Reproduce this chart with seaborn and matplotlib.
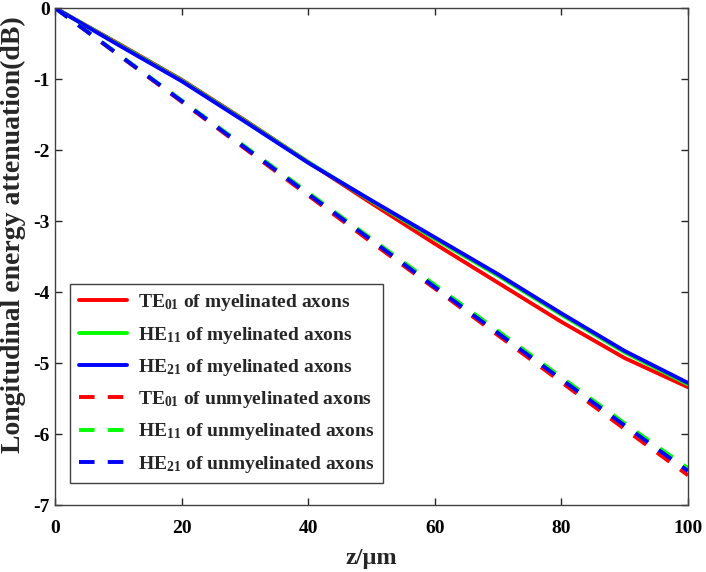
import numpy as np
import pandas as pd
import matplotlib
matplotlib.use("Agg")
import matplotlib.pyplot as plt
import seaborn as sns

# --- data (attenuation in dB vs z in um) ------------------------------------
z = [0, 10, 20, 30, 40, 50, 60, 70, 80, 90, 100]

te01_myel = [0, -0.50, -1.01, -1.58, -2.17, -2.75, -3.32, -3.87, -4.42, -4.93, -5.34]
he11_myel = [0, -0.51, -1.02, -1.59, -2.17, -2.72, -3.25, -3.77, -4.32, -4.85, -5.30]
he21_myel = [0, -0.52, -1.03, -1.60, -2.18, -2.71, -3.23, -3.75, -4.30, -4.83, -5.28]

te01_unmyel = [0, -0.66, -1.32, -1.98, -2.64, -3.30, -3.95, -4.61, -5.27, -5.93, -6.58]
he11_unmyel = [0, -0.65, -1.30, -1.95, -2.60, -3.25, -3.90, -4.55, -5.20, -5.85, -6.48]
he21_unmyel = [0, -0.655, -1.31, -1.965, -2.62, -3.27, -3.93, -4.58, -5.23, -5.88, -6.52]

labels = [
    "TE$_{01}$ of myelinated axons",
    "HE$_{11}$ of myelinated axons",
    "HE$_{21}$ of myelinated axons",
    "TE$_{01}$ of unmyelinated axons",
    "HE$_{11}$ of unmyelinated axons",
    "HE$_{21}$ of unmyelinated axons",
]
series = [te01_myel, he11_myel, he21_myel, te01_unmyel, he11_unmyel, he21_unmyel]
colors = ["#ff0000", "#00ff00", "#0000ff", "#ff0000", "#00ff00", "#0000ff"]
dashed = [False, False, False, True, True, True]

# --- style: MATLAB-ish look, bold Times-like font ----------------------------
sns.set_theme(style="ticks")
plt.rcParams["font.family"] = ["Liberation Serif", "DejaVu Serif"]
plt.rcParams["font.weight"] = "bold"
plt.rcParams["mathtext.fontset"] = "custom"
plt.rcParams["mathtext.rm"] = "Liberation Serif:bold"
plt.rcParams["mathtext.it"] = "Liberation Serif:bold"
plt.rcParams["mathtext.bf"] = "Liberation Serif:bold"

fig = plt.figure(figsize=(7.06, 5.72), dpi=100)
ax = fig.add_axes([0.078, 0.117, 0.8965, 0.869])

for vals, lab, col, dsh in zip(series, labels, colors, dashed):
    df = pd.DataFrame({"z": z, "att": vals})
    sns.lineplot(data=df, x="z", y="att", ax=ax, color=col,
                 linewidth=2.8, label=lab)
    if dsh:
        ax.lines[-1].set_dashes((4.0, 3.4))

ax.set_xlim(0, 100)
ax.set_ylim(-7, 0)
ax.set_xticks([0, 20, 40, 60, 80, 100])
ax.set_yticks([0, -1, -2, -3, -4, -5, -6, -7])
ax.set_yticklabels(["0", "-1", "-2", "-3", "-4", "-5", "-6", "-7"])
ax.tick_params(direction="in", length=5, width=1, colors="#262626",
               top=True, right=True, labelsize=14)
ax.tick_params(axis="x", pad=11)
ax.tick_params(axis="y", pad=4)
for lab in ax.get_xticklabels() + ax.get_yticklabels():
    lab.set_fontweight("bold")
    lab.set_color("black")
for sp in ax.spines.values():
    sp.set_visible(True)
    sp.set_color("#404040")
    sp.set_linewidth(1)

ax.set_xlabel("z/\u03bcm", fontsize=17.5, fontweight="bold", labelpad=8)
ax.set_ylabel("Longitudinal energy attenuation(dB)", fontsize=20,
              fontweight="bold")
ax.yaxis.set_label_coords(-0.046, 0.545)

leg = ax.legend(loc="lower left", bbox_to_anchor=(0.009, 0.024),
                prop={"family": "Liberation Serif", "weight": "bold", "size": 14},
                frameon=True, fancybox=False, handlelength=2.45,
                handletextpad=0.55, labelspacing=0.58, borderpad=0.45)
leg.get_frame().set_edgecolor("#404040")
leg.get_frame().set_linewidth(1)
leg.get_frame().set_alpha(1)

fig.savefig("out.png", dpi=100)
